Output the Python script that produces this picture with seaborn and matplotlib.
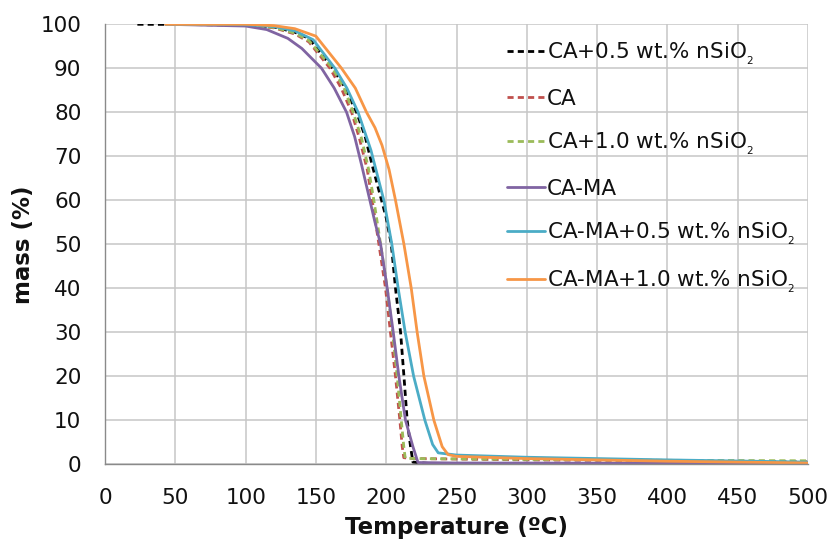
import matplotlib
matplotlib.use("Agg")
import matplotlib.pyplot as plt
import seaborn as sns
import pandas as pd

# ---- data ----
labels = [
    "CA+0.5 wt.% nSiO$_{{}_2}$",
    "CA",
    "CA+1.0 wt.% nSiO$_{{}_2}$",
    "CA-MA",
    "CA-MA+0.5 wt.% nSiO$_{{}_2}$",
    "CA-MA+1.0 wt.% nSiO$_{{}_2}$",
]

t_ca05 = [23, 100, 120, 135, 145, 161.8, 170, 178.9, 185, 190, 195, 200, 203.6, 206.6, 210.2, 212.6, 214.9, 217.3, 219, 230, 300, 500]
m_ca05 = [100, 99.9, 99.4, 98.2, 96.8, 90, 86, 80, 74.5, 68, 62, 56, 50, 40, 30, 20, 10, 4, 0.5, 0.2, 0.2, 0.2]

t_ca = [43, 100, 120, 135, 145, 160, 168, 175.4, 181, 186.5, 190, 194.8, 199.5, 203, 206.6, 209.7, 211.4, 212.5, 220, 300, 400, 500]
m_ca = [100, 99.8, 99.2, 97.8, 96, 90, 85.5, 80, 74, 67, 60, 50, 40, 30, 20, 10, 4, 1.5, 1.3, 1.0, 0.8, 0.6]

t_ca10 = [43, 100, 120, 135, 145, 161.8, 170, 176.5, 182.5, 187.5, 191.2, 196, 200.7, 204.5, 207.8, 210.7, 212.5, 213.5, 220, 300, 400, 500]
m_ca10 = [100, 99.8, 99.3, 98, 96.3, 90, 85.5, 80, 74, 67, 60, 50, 40, 30, 20, 10, 4, 1.4, 1.3, 1.1, 0.9, 0.8]

t_cama = [43, 100, 115, 130, 140, 154, 163, 171.8, 177.5, 182.5, 188, 192, 196, 200.7, 205, 209, 213.7, 219, 222.6, 250, 500]
m_cama = [100, 99.6, 98.8, 96.8, 94.5, 90, 85.5, 80, 74.5, 68, 60.5, 55, 50, 40, 30, 20, 10, 4, 0.4, 0.3, 0.2]

t_cama05 = [43, 100, 120, 135, 148, 163.5, 172, 180, 189.1, 198.3, 204, 208.5, 213.5, 219.5, 227.5, 233, 237, 250, 300, 400, 500]
m_cama05 = [100, 99.9, 99.5, 98.5, 96.5, 90, 85.5, 80, 71.4, 60, 50, 40, 30, 20, 10, 4.5, 2.6, 2.1, 1.6, 1.0, 0.5]

t_cama10 = [43, 100, 120, 135, 150, 168.2, 178, 186, 192, 197, 202, 206.6, 212.6, 217.8, 222, 226.8, 233.9, 239.8, 244, 250, 300, 400, 500]
m_cama10 = [100, 100, 99.7, 99, 97.3, 90, 85.5, 80, 76.5, 72.5, 67, 60, 50, 40, 30, 20, 10, 4, 2.2, 1.8, 1.3, 0.7, 0.3]

x_ticks = [0, 50, 100, 150, 200, 250, 300, 350, 400, 450, 500]
y_ticks = [0, 10, 20, 30, 40, 50, 60, 70, 80, 90, 100]

series = [
    (t_ca05, m_ca05, "#000000", (0, (2.2, 1.5))),
    (t_ca, m_ca, "#C0504D", (0, (2.2, 1.5))),
    (t_ca10, m_ca10, "#9BBB59", (0, (2.2, 1.5))),
    (t_cama, m_cama, "#8064A2", "-"),
    (t_cama05, m_cama05, "#4BACC6", "-"),
    (t_cama10, m_cama10, "#F79646", "-"),
]

sns.set_theme(style="white")
plt.rcParams["font.family"] = ["DejaVu Sans"]

fig = plt.figure(figsize=(8.29, 5.47), dpi=100)
ax = fig.add_axes([0.1267, 0.1512, 0.8480, 0.8044])

for lab, (t, m, col, ls) in zip(labels, series):
    df = pd.DataFrame({"T": t, "m": m})
    sns.lineplot(data=df, x="T", y="m", ax=ax, color=col, linestyle=ls,
                 linewidth=2.0, label=lab, sort=False, estimator=None)

ax.set_xlim(0, 500)
ax.set_ylim(0, 100)
ax.set_xticks(x_ticks)
ax.set_yticks(y_ticks)
ax.tick_params(axis="both", labelsize=15.5, labelcolor="#111111", length=5,
               width=1, direction="out", color="#a0a0a0")
ax.tick_params(axis="y", pad=12)
ax.tick_params(axis="x", pad=12)
ax.grid(True, color="#c6c6c6", linewidth=1.1)
for side in ["top", "right"]:
    ax.spines[side].set_visible(False)
for side in ["left", "bottom"]:
    ax.spines[side].set_color("#8a8a8a")
    ax.spines[side].set_linewidth(1.0)
ax.set_axisbelow(True)

ax.set_xlabel("Temperature (ºC)", fontsize=16.5, fontweight="bold", labelpad=6,
              color="#111111")
ax.set_ylabel("mass (%)", fontsize=16.5, fontweight="bold", labelpad=4,
              color="#111111")

leg = ax.legend(loc="upper left", bbox_to_anchor=(0.549, 1.0), frameon=False,
                fontsize=15.5, handlelength=1.75, handletextpad=0.1,
                labelspacing=1.02, borderaxespad=0.35)
for txt in leg.get_texts():
    txt.set_color("#111111")

fig.savefig("out.png", dpi=100)
